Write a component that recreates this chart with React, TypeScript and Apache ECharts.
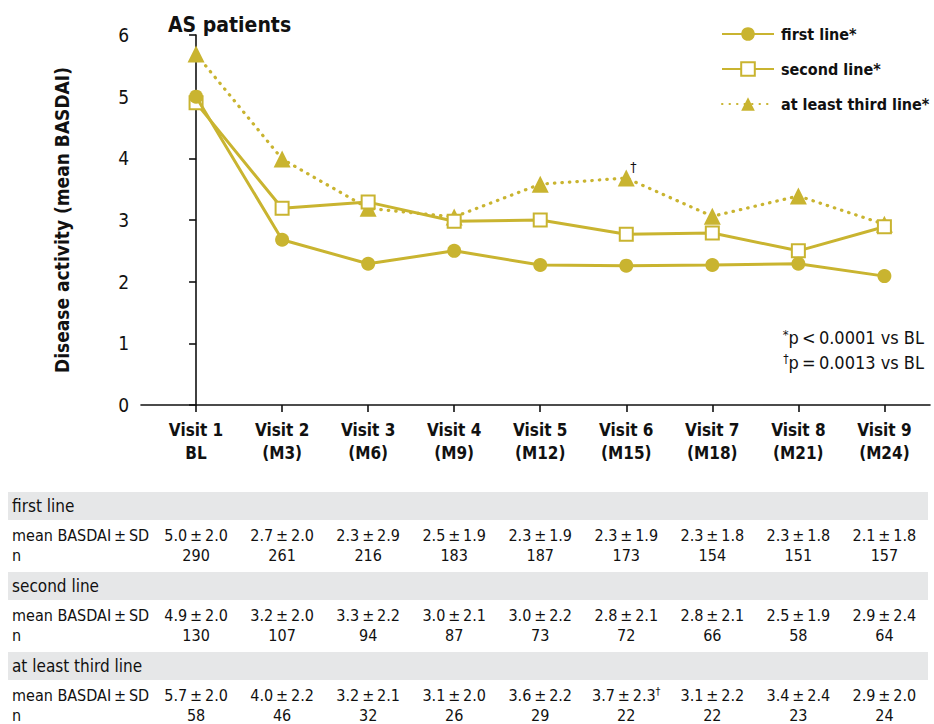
import React, { useEffect, useRef } from "react";
import * as echarts from "echarts";

const categories = ["Visit 1\nBL", "Visit 2\n(M3)", "Visit 3\n(M6)", "Visit 4\n(M9)", "Visit 5\n(M12)", "Visit 6\n(M15)", "Visit 7\n(M18)", "Visit 8\n(M21)", "Visit 9\n(M24)"];
const yTicks = [0, 1, 2, 3, 4, 5, 6];

const firstLine = [5.0, 2.68, 2.29, 2.5, 2.27, 2.26, 2.27, 2.29, 2.09];
const secondLine = [4.9, 3.19, 3.29, 2.98, 3.0, 2.77, 2.79, 2.5, 2.89];
const thirdLine = [5.69, 3.99, 3.19, 3.05, 3.58, 3.68, 3.06, 3.39, 2.93];

const seriesNames = ["first line*", "second line*", "at least third line*"];
const groupNames = ["first line", "second line", "at least third line"];

const meanFirst = ["5.0±2.0", "2.7±2.0", "2.3±2.9", "2.5±1.9", "2.3±1.9", "2.3±1.9", "2.3±1.8", "2.3±1.8", "2.1±1.8"];
const nFirst = [290, 261, 216, 183, 187, 173, 154, 151, 157];
const meanSecond = ["4.9±2.0", "3.2±2.0", "3.3±2.2", "3.0±2.1", "3.0±2.2", "2.8±2.1", "2.8±2.1", "2.5±1.9", "2.9±2.4"];
const nSecond = [130, 107, 94, 87, 73, 72, 66, 58, 64];
const meanThird = ["5.7±2.0", "4.0±2.2", "3.2±2.1", "3.1±2.0", "3.6±2.2", "3.7±2.3†", "3.1±2.2", "3.4±2.4", "2.9±2.0"];
const nThird = [58, 46, 32, 26, 29, 22, 22, 23, 24];

const COLOR = "#c9b430";
const FONT = '"Liberation Sans Narrow", "DejaVu Sans Condensed", "Roboto Condensed", Arial, sans-serif';
const TXT = "#111";

function fmtMean(s: string) {
  const parts = s.replace("†", "").split("±");
  const dag = s.includes("†") ? "{sup|†}" : "";
  return parts[0] + "\u2009±\u2009" + parts[1] + dag;
}

export default function App() {
  const ref = useRef<HTMLDivElement>(null);
  useEffect(() => {
    document.body.style.margin = "0";
    const chart = echarts.init(ref.current!, null, { renderer: "svg" });
    const idx = categories.map((_, i) => i);
    const toData = (arr: number[]) => arr.map((v, i) => [i, v]);
    const option: any = {
      animation: false,
      textStyle: { fontFamily: FONT },
      title: {
        text: "AS patients",
        left: 163,
        top: 9,
        textStyle: { fontFamily: FONT, fontSize: 21, fontWeight: "bold", color: TXT },
      },
      legend: {
        orient: "vertical",
        left: 716,
        top: 21,
        itemWidth: 52,
        itemHeight: 17,
        itemGap: 19,
        data: seriesNames,
        textStyle: { fontFamily: FONT, fontSize: 16, fontWeight: "bold", color: TXT, padding: [0, 0, 0, 2] },
      },
      grid: { left: 141, top: 35, width: 789, height: 370 },
      xAxis: {
        type: "value",
        min: -0.64,
        max: 8.53,
        splitLine: { show: false },
        axisLine: { lineStyle: { color: TXT, width: 1.6 } },
        axisTick: { show: true, customValues: idx, length: 7, lineStyle: { color: TXT, width: 1.6 } },
        axisLabel: {
          customValues: idx,
          formatter: (v: number) => categories[Math.round(v)] ?? "",
          fontFamily: FONT,
          fontSize: 17,
          fontWeight: "bold",
          color: TXT,
          lineHeight: 23,
          margin: 13,
        },
      },
      yAxis: {
        type: "value",
        min: yTicks[0],
        max: yTicks[yTicks.length - 1],
        interval: 1,
        name: "Disease activity (mean BASDAI)",
        nameLocation: "middle",
        nameGap: 70,
        nameTextStyle: { fontFamily: FONT, fontSize: 19, fontWeight: "bold", color: TXT },
        splitLine: { show: false },
        axisLine: { show: true, lineStyle: { color: TXT, width: 1.6 } },
        axisTick: { show: true, length: 7, lineStyle: { color: TXT, width: 1.6 } },
        axisLabel: { fontFamily: FONT, fontSize: 19, color: TXT, margin: 12 },
      },
      series: [
        {
          name: seriesNames[0],
          type: "line",
          data: toData(firstLine),
          z: 5,
          symbol: "circle",
          symbolSize: 14,
          lineStyle: { color: COLOR, width: 3 },
          itemStyle: { color: COLOR },
        },
        {
          name: seriesNames[1],
          type: "line",
          data: toData(secondLine),
          z: 4,
          symbol: "rect",
          symbolSize: 13,
          lineStyle: { color: COLOR, width: 3 },
          itemStyle: { color: "#fff", borderColor: COLOR, borderWidth: 2 },
        },
        {
          name: seriesNames[2],
          type: "line",
          data: toData(thirdLine).map((d, i) =>
            i === 5
              ? { value: d, label: { show: true, formatter: "†", position: "top", offset: [7, 9], fontSize: 14, color: TXT, fontFamily: FONT } }
              : d
          ),
          z: 3,
          symbol: "triangle",
          symbolSize: 17,
          lineStyle: { color: COLOR, width: 3.2, type: [0.5, 7], cap: "round" },
          itemStyle: { color: COLOR },
        },
      ],
    };
    chart.setOption(option);

    const cols = idx.map((i) => chart.convertToPixel({ xAxisIndex: 0 }, i) as number);
    const elems: any[] = [];
    const groups = [
      { name: groupNames[0], mean: meanFirst, n: nFirst, top: 492 },
      { name: groupNames[1], mean: meanSecond, n: nSecond, top: 572 },
      { name: groupNames[2], mean: meanThird, n: nThird, top: 652 },
    ];
    const tstyle = { fontFamily: FONT, fontSize: 16, fill: TXT };
    groups.forEach((g) => {
      elems.push({ type: "rect", shape: { x: 8, y: g.top, width: 920, height: 28 }, style: { fill: "#e6e7e8" }, silent: true });
      elems.push({ type: "text", x: 12, y: g.top + 14, style: { ...tstyle, fontSize: 17, text: g.name, verticalAlign: "middle" } });
      elems.push({ type: "text", x: 12, y: g.top + 43, style: { ...tstyle, text: "mean BASDAI\u2009±\u2009SD", verticalAlign: "middle" } });
      elems.push({ type: "text", x: 12, y: g.top + 63, style: { ...tstyle, text: "n", verticalAlign: "middle" } });
      g.mean.forEach((m, i) => {
        elems.push({
          type: "text",
          x: cols[i],
          y: g.top + 43,
          style: {
            ...tstyle,
            text: fmtMean(m),
            align: "center",
            verticalAlign: "middle",
            rich: { sup: { fontFamily: FONT, fontSize: 11, fill: TXT, verticalAlign: "top", padding: [0, 0, 8, 0] } },
          },
        });
        elems.push({ type: "text", x: cols[i], y: g.top + 63, style: { ...tstyle, text: String(g.n[i]), align: "center", verticalAlign: "middle" } });
      });
    });
    const fstyle = { fontFamily: FONT, fontSize: 18, fill: TXT };
    elems.push({
      type: "text",
      x: 924,
      y: 337,
      style: { ...fstyle, text: "{sup|*}p\u2009<\u20090.0001 vs BL", align: "right", verticalAlign: "middle", rich: { sup: { fontFamily: FONT, fontSize: 13, fill: TXT, padding: [0, 0, 6, 0] } } },
    });
    elems.push({
      type: "text",
      x: 924,
      y: 362,
      style: { ...fstyle, text: "{sup|†}p\u2009=\u20090.0013 vs BL", align: "right", verticalAlign: "middle", rich: { sup: { fontFamily: FONT, fontSize: 12, fill: TXT, padding: [0, 0, 7, 0] } } },
    });
    chart.setOption({ graphic: { elements: elems } });

    return () => chart.dispose();
  }, []);
  return <div ref={ref} style={{ width: 934, height: 724 }} />;
}
